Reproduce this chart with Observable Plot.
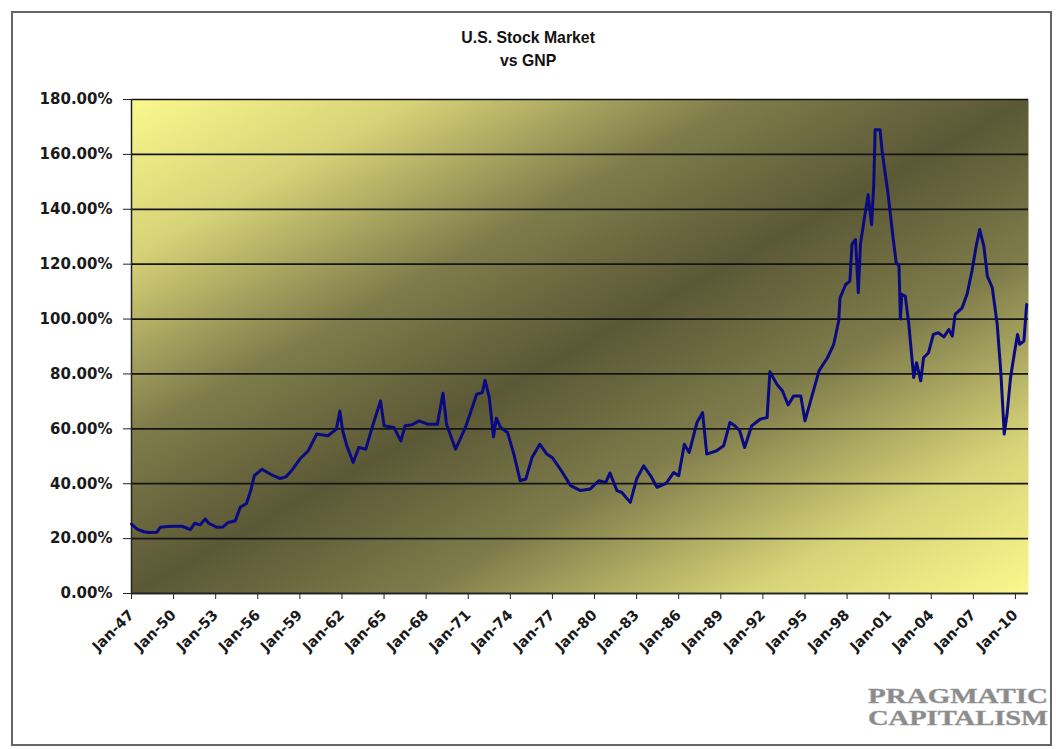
<!DOCTYPE html>
<html>
<head>
<meta charset="utf-8">
<script src="https://cdn.jsdelivr.net/npm/d3@7"></script>
<script src="https://cdn.jsdelivr.net/npm/@observablehq/plot@0.6"></script>
<style>
  html, body { margin: 0; padding: 0; background: #ffffff; }
  #wrap { position: relative; width: 1056px; height: 749px; overflow: hidden; background: #fff; }
  #border { position: absolute; left: 11px; top: 11px; width: 1037px; height: 731px; border: 2px solid #666; box-sizing: content-box; }
  .title { position: absolute; left: 0; width: 1056px; text-align: center; font-family: "Liberation Sans", Arial, sans-serif; font-weight: bold; font-size: 17px; line-height: 20px; color: #111; transform: scaleX(0.93); transform-origin: 530px 0; }
  #chart { position: absolute; left: 0; top: 0; }
  #mark { position: absolute; left: 0; top: 0; }
</style>
</head>
<body>
<div id="wrap">
  <div id="border"></div>
  <div class="title" style="top:28px">U.S. Stock Market</div>
  <div class="title" style="top:51px">vs GNP</div>
  <div id="chart"></div>
  <svg id="mark" width="1056" height="749">
    <g font-family="'Liberation Serif', 'Times New Roman', serif" font-weight="bold" font-size="20" fill="#8b8b8b" stroke="#9a9a9a" stroke-width="0.4">
      <text x="868" y="703" textLength="180" lengthAdjust="spacingAndGlyphs">PRAGMATIC</text>
      <text x="868" y="725" textLength="180" lengthAdjust="spacingAndGlyphs">CAPITALISM</text>
    </g>
  </svg>
</div>
<script>
// Decimal year of each observation
const years = [
  1947.0, 1947.4, 1947.86, 1948.3, 1948.8, 1949.05, 1949.6, 1950.1, 1950.6, 1951.2,
  1951.5, 1951.9, 1952.25, 1952.5, 1953.1, 1953.5, 1953.9, 1954.4, 1954.75, 1955.2,
  1955.5, 1955.75, 1956.3, 1957.0, 1957.6, 1958.0, 1958.4, 1959.0, 1959.6, 1960.2,
  1961.0, 1961.6, 1961.85, 1962.05, 1962.35, 1962.8, 1963.2, 1963.7, 1964.15, 1964.75,
  1965.0, 1965.7, 1966.2, 1966.5, 1967.0, 1967.5, 1968.1, 1968.8, 1969.2, 1969.45,
  1970.1, 1970.8, 1971.6, 1972.0, 1972.2, 1972.5, 1972.8, 1973.0, 1973.3, 1973.8,
  1974.25, 1974.7, 1975.1, 1975.55, 1976.1, 1976.6, 1977.0, 1977.6, 1978.3, 1979.0,
  1979.7, 1980.3, 1980.8, 1981.1, 1981.6, 1981.95, 1982.55, 1983.0, 1983.5, 1984.0,
  1984.45, 1985.1, 1985.65, 1986.0, 1986.4, 1986.75, 1987.3, 1987.7, 1988.0, 1988.7,
  1989.2, 1989.65, 1990.0, 1990.35, 1990.7, 1991.2, 1991.8, 1992.3, 1992.5, 1993.0,
  1993.4, 1993.8, 1994.2, 1994.7, 1995.0, 1995.4, 1996.0, 1996.6, 1997.05, 1997.4,
  1997.5, 1997.9, 1998.2, 1998.35, 1998.6, 1998.8, 1998.95, 1999.2, 1999.5, 1999.75,
  1999.9, 2000.0, 2000.35, 2000.5, 2000.9, 2001.25, 2001.5, 2001.7, 2001.8, 2001.9,
  2002.15, 2002.4, 2002.75, 2002.95, 2003.25, 2003.45, 2003.8, 2004.15, 2004.5, 2004.9,
  2005.25, 2005.5, 2005.7, 2006.2, 2006.55, 2006.9, 2007.2, 2007.45, 2007.75, 2008.0,
  2008.35, 2008.7, 2008.95, 2009.1, 2009.2, 2009.4, 2009.65, 2009.95, 2010.15, 2010.3,
  2010.6, 2010.8
];
// Stock market value as % of GNP
const ratio = [
  25.3, 23.5, 22.5, 22.2, 22.3, 24.1, 24.4, 24.5, 24.5, 23.3,
  25.6, 25.0, 27.2, 25.6, 24.1, 24.2, 25.9, 26.5, 31.4, 32.8,
  37.5, 42.9, 45.3, 43.2, 41.9, 42.5, 44.7, 49.0, 52.0, 58.1,
  57.5, 59.9, 66.5, 59.3, 53.8, 47.7, 53.2, 52.6, 60.5, 70.2,
  61.1, 60.5, 55.6, 61.1, 61.5, 62.9, 61.7, 61.7, 73.0, 61.7,
  52.6, 60.5, 72.6, 73.2, 77.7, 71.4, 57.1, 63.9, 60.5, 58.7,
  50.8, 41.1, 41.7, 49.6, 54.4, 50.8, 49.5, 45.0, 39.3, 37.5,
  38.1, 41.1, 40.5, 43.9, 37.5, 36.8, 33.2, 41.7, 46.5, 42.9,
  38.7, 40.1, 44.1, 42.9, 54.4, 51.4, 62.3, 65.9, 50.8, 52.0,
  53.8, 62.3, 61.1, 59.3, 53.2, 61.1, 63.5, 64.1, 80.8, 76.2,
  73.8, 68.7, 72.0, 72.0, 62.9, 70.2, 81.1, 85.9, 90.8, 99.3,
  107.7, 112.6, 113.8, 127.2, 129.0, 109.6, 127.2, 135.6, 145.3, 134.4,
  149.0, 169.0, 169.0, 161.0, 146.5, 130.8, 120.5, 119.3, 100.0, 109.0,
  108.4, 98.1, 78.7, 84.1, 77.5, 85.9, 87.7, 94.4, 95.0, 93.5,
  96.2, 93.8, 101.7, 104.1, 109.0, 117.5, 126.5, 132.6, 126.5, 115.6,
  111.4, 98.1, 81.1, 67.7, 58.1, 65.3, 78.7, 88.4, 94.4, 90.8,
  92.0, 105.3
];
const xTicks = [1947, 1950, 1953, 1956, 1959, 1962, 1965, 1968, 1971, 1974, 1977, 1980,
  1983, 1986, 1989, 1992, 1995, 1998, 2001, 2004, 2007, 2010];
const yTicks = [0, 20, 40, 60, 80, 100, 120, 140, 160, 180];
const xDomain = [1947, 2010.93];

const data = years.map((y, i) => ({year: y, value: ratio[i]}));

const chart = Plot.plot({
  width: 1056,
  height: 700,
  marginLeft: 131,
  marginRight: 28,
  marginTop: 99,
  marginBottom: 107,
  style: {fontFamily: "'DejaVu Sans', sans-serif", fontWeight: "bold", color: "#1a1a1a", background: "transparent", overflow: "visible"},
  x: {domain: xDomain, type: "linear"},
  y: {domain: [0, 180]},
  marks: [
    Plot.frame({fill: "url(#bgGrad)", stroke: "none"}),
    Plot.gridY(yTicks, {stroke: "#141414", strokeOpacity: 1, strokeWidth: 1.7}),
    Plot.ruleX([xDomain[0]], {stroke: "#222", strokeWidth: 1.5}),
    Plot.ruleY([0], {stroke: "#222", strokeWidth: 1.7}),
    Plot.axisY(yTicks, {
      tickFormat: d => d.toFixed(2) + "%",
      tickSize: 8, tickPadding: 11, fontSize: 15, label: null, stroke: "#222"
    }),
    Plot.axisX(xTicks, {
      tickFormat: d => "Jan-" + String(d % 100).padStart(2, "0"),
      tickSize: 6, tickPadding: 13, tickRotate: -45, fontSize: 14.5, label: null, stroke: "#222"
    }),
    Plot.line(data, {x: "year", y: "value", stroke: "#0a0a80", strokeWidth: 3, strokeLinejoin: "round"})
  ]
});

const defs = d3.select(chart).insert("defs", ":first-child");
const g = defs.append("linearGradient").attr("id", "bgGrad")
  .attr("x1", 0).attr("y1", 0).attr("x2", 1).attr("y2", 1);
g.append("stop").attr("offset", 0).attr("stop-color", "#fbf88e");
g.append("stop").attr("offset", 0.16).attr("stop-color", "#d6d277");
g.append("stop").attr("offset", 0.34).attr("stop-color", "#7f7c4b");
g.append("stop").attr("offset", 0.5).attr("stop-color", "#5b5836");
g.append("stop").attr("offset", 0.66).attr("stop-color", "#7f7c4b");
g.append("stop").attr("offset", 0.84).attr("stop-color", "#d6d277");
g.append("stop").attr("offset", 1).attr("stop-color", "#fbf88e");

document.getElementById("chart").appendChild(chart);
</script>
</body>
</html>
